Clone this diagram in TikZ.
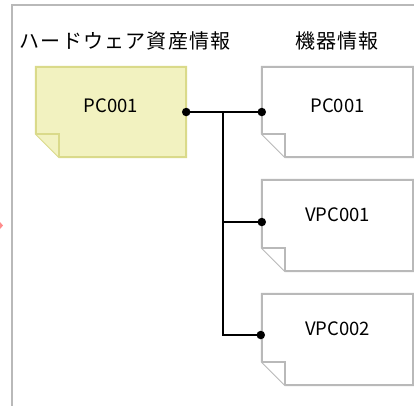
\documentclass[tikz,border=0pt]{standalone}
\usepackage{fontspec}
\setmainfont{Noto Sans CJK JP}
\newfontfamily\jpfont[LetterSpace=6]{Noto Sans CJK JP}
\definecolor{hwfill}{RGB}{242,242,192}
\definecolor{hwdraw}{RGB}{218,218,138}
\definecolor{greyline}{RGB}{185,185,185}
\begin{document}
\begin{tikzpicture}[x=1pt,y=-1pt,
  framestyle/.style={draw=greyline,line width=2pt},
  notebox/.style={rectangle,inner sep=0pt,minimum width=151pt,minimum height=90pt},
  hwnote/.style={fill=hwfill,draw=hwdraw,line width=2pt},
  devnote/.style={fill=white,draw=greyline,line width=2pt},
  lbl/.style={font=\fontsize{18.5}{18.5}\selectfont,inner sep=0pt},
  head/.style={font=\jpfont\fontsize{20}{20}\selectfont,inner sep=0pt},
  conn/.style={draw=black,line width=2pt},
  dotmark/.style={circle,fill=black,inner sep=0pt,minimum size=8.5pt}]
\useasboundingbox (0,0) rectangle (414,405);
\newcommand\notepath[1]{(#1.north west) -- ([yshift=23.5pt]#1.south west) -- ([xshift=23.5pt]#1.south west) -- (#1.south east) -- (#1.north east) -- cycle}
\newcommand\foldpath[1]{([yshift=23.5pt]#1.south west) -- ([xshift=23.5pt,yshift=23.5pt]#1.south west) -- ([xshift=23.5pt]#1.south west)}
% frame
\draw[framestyle] (12,406) -- (12,5) -- (415,5);
\fill[red!45] (0,222) -- (3,225.5) -- (0,229) -- cycle;
% headers
\node[head] (h1) at (125,41) {ハードウェア資産情報};
\node[head] (h2) at (337,41) {機器情報};
% notes
\node[notebox,minimum width=150pt] (hw) at (111,112) {};
\node[notebox] (d1) at (337.5,112) {};
\node[notebox,minimum height=91pt] (d2) at (337.5,225.5) {};
\node[notebox,minimum height=91pt] (d3) at (337.5,339.5) {};
\path[hwnote] \notepath{hw};
\path[hwnote] \foldpath{hw};
\foreach \n in {d1,d2,d3}{
  \path[devnote] \notepath{\n};
  \path[devnote] \foldpath{\n};
}
% labels
\node[lbl] (t0) at ([yshift=6.5pt]hw.center) {PC001};
\node[lbl] (t1) at ([yshift=6.5pt]d1.center) {PC001};
\node[lbl] (t2) at ([yshift=11pt]d2.center) {VPC001};
\node[lbl] (t3) at ([yshift=11pt]d3.center) {VPC002};
% connectors
\coordinate (p2) at ([yshift=3.5pt]d2.west);
\coordinate (p3) at ([xshift=-1pt,yshift=4.5pt]d3.west);
\coordinate (j) at (223,112);
\draw[conn] (hw.east) -- (d1.west);
\draw[conn] (j) |- (p3);
\draw[conn] (j |- p2) -- (p2);
\node[dotmark] at (hw.east) {};
\node[dotmark] at (d1.west) {};
\node[dotmark] at (p2) {};
\node[dotmark] at (p3) {};
\end{tikzpicture}
\end{document}
